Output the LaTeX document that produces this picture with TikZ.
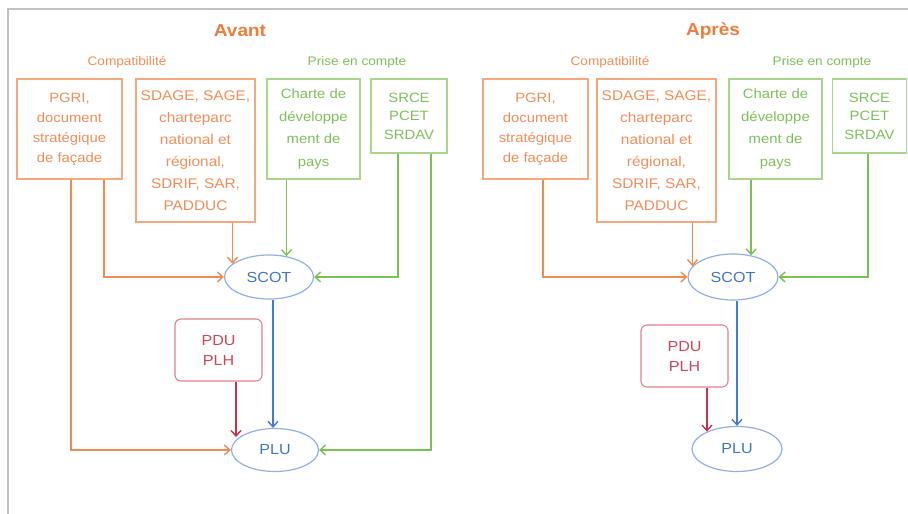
\documentclass[tikz,border=0pt]{standalone}
\usepackage{fontspec}
\setmainfont[FakeStretch=1.1]{Liberation Sans}
\usetikzlibrary{arrows.meta,shapes.geometric}

\definecolor{orangeT}{RGB}{238,125,60}
\definecolor{orangeL}{RGB}{242,140,88}
\definecolor{orangeB}{RGB}{245,168,128}
\definecolor{orangeA}{RGB}{240,138,78}
\definecolor{greenT}{RGB}{125,192,90}
\definecolor{greenB}{RGB}{168,214,138}
\definecolor{greenA}{RGB}{122,194,82}
\definecolor{blueT}{RGB}{60,118,200}
\definecolor{blueE}{RGB}{145,175,228}
\definecolor{blueA}{RGB}{68,122,215}
\definecolor{redT}{RGB}{208,68,90}
\definecolor{redB}{RGB}{225,128,142}
\definecolor{redA}{RGB}{198,48,72}
\definecolor{frameG}{RGB}{200,192,190}

\tikzset{
	doc/.style={draw, rectangle, line width=1.1pt, align=center, inner sep=0pt,
		font=\fontsize{13.5}{20}\selectfont},
	obox/.style={doc, draw=orangeB, text=orangeL},
	gbox/.style={doc, draw=greenB, text=greenT},
	plan/.style={draw=blueE, ellipse, line width=1.2pt, inner sep=0pt, text=blueT,
		font=\fontsize{14.6}{16}\selectfont},
	rbox/.style={draw=redB, rounded corners=6pt, line width=1.1pt, align=center,
		inner sep=0pt, text=redT, font=\fontsize{14.6}{20}\selectfont},
	title/.style={text=orangeT, font=\fontsize{17.3}{19}\selectfont\bfseries},
	olabel/.style={text=orangeL, font=\fontsize{12.4}{14}\selectfont},
	glabel/.style={text=greenT, font=\fontsize{12.4}{14}\selectfont},
	link/.style={line width=1.4pt, -{Straight Barb[length=5.5pt,width=10pt]}},
}

\begin{document}
\begin{tikzpicture}[x=1pt,y=-1pt]
	\useasboundingbox (0,0) rectangle (908,514);
	\draw [frameG, line width=2pt] (8,514) -- (8,9) -- (908,9);

	% Avant
	\node [title] (avant) at (240,31) {Avant};
	\node [olabel] (compA) at (127,62) {Compatibilité};
	\node [glabel] (priseA) at (357,62) {Prise en compte};
	\node [obox, minimum width=105, minimum height=100] (pgriA) at (69.5,129)
		{PGRI,\\document\\stratégique\\de façade};
	\node [obox, minimum width=119, minimum height=143, font=\fontsize{14}{22}\selectfont]
		(sdageA) at (195.5,150.5)
		{SDAGE, SAGE,\\charteparc\\national et\\régional,\\SDRIF, SAR,\\PADDUC};
	\node [gbox, minimum width=93, minimum height=100, font=\fontsize{13.5}{22.5}\selectfont]
		(charteA) at (313.5,129) {Charte de\\développe\\ment de\\pays};
	\node [gbox, minimum width=76, minimum height=74, font=\fontsize{13.5}{18.5}\selectfont]
		(srceA) at (409,116) {SRCE\\PCET\\SRDAV};
	\node [plan, minimum width=89, minimum height=44] (scotA) at (269,277) {SCOT};
	\node [plan, minimum width=87, minimum height=43] (pluA) at (275,450) {PLU};
	\node [rbox, minimum width=87, minimum height=62] (pduA) at (218.5,350) {PDU\\PLH};

	\draw [link, orangeA] ([xshift=34.5]pgriA.south) |- (scotA.west);
	\draw [link, orangeA] ([xshift=1.5]pgriA.south) |- (pluA.west);
	\draw [link, orangeA] (scotA.160 |- sdageA.south) -- (scotA.160);
	\draw [link, greenA] (scotA.50 |- charteA.south) -- (scotA.50);
	\draw [link, greenA] ([xshift=-11]srceA.south) |- (scotA.east);
	\draw [link, greenA] ([xshift=22]srceA.south) |- (pluA.east);
	\draw [link, blueA] ([xshift=4]scotA.south) -- ([xshift=4]scotA.south |- pluA.north);
	\draw [link, redA] ([xshift=17.5]pduA.south) -- ([xshift=17.5]pduA.south |- pluA.160);

	% Apres
	\node [title] (apres) at (713,31) {Après};
	\node [olabel] (compB) at (610,62) {Compatibilité};
	\node [glabel] (priseB) at (822,62) {Prise en compte};
	\node [obox, minimum width=105, minimum height=100] (pgriB) at (535.5,129)
		{PGRI,\\document\\stratégique\\de façade};
	\node [obox, minimum width=119, minimum height=143, font=\fontsize{14}{22}\selectfont]
		(sdageB) at (656.5,150.5)
		{SDAGE, SAGE,\\charteparc\\national et\\régional,\\SDRIF, SAR,\\PADDUC};
	\node [gbox, minimum width=93, minimum height=100, font=\fontsize{13.5}{22.5}\selectfont]
		(charteB) at (775.5,129) {Charte de\\développe\\ment de\\pays};
	\node [gbox, minimum width=74, minimum height=74, font=\fontsize{13.5}{18.5}\selectfont]
		(srceB) at (869.5,116) {SRCE\\PCET\\SRDAV};
	\node [plan, minimum width=90, minimum height=46] (scotB) at (733,277) {SCOT};
	\node [plan, minimum width=90, minimum height=45] (pluB) at (737,449) {PLU};
	\node [rbox, minimum width=87, minimum height=62] (pduB) at (684.5,356) {PDU\\PLH};

	\draw [link, orangeA] ([xshift=7.5]pgriB.south) |- (scotB.west);
	\draw [link, orangeA] (scotB.165 |- sdageB.south) -- (scotB.165);
	\draw [link, greenA] (scotB.50 |- charteB.south) -- (scotB.50);
	\draw [link, greenA] ([xshift=-1.5]srceB.south) |- (scotB.east);
	\draw [link, blueA] ([xshift=4]scotB.south) -- ([xshift=4]scotB.south |- pluB.north);
	\draw [link, redA] ([xshift=22.5]pduB.south) -- ([xshift=22.5]pduB.south |- pluB.150);
\end{tikzpicture}
\end{document}
